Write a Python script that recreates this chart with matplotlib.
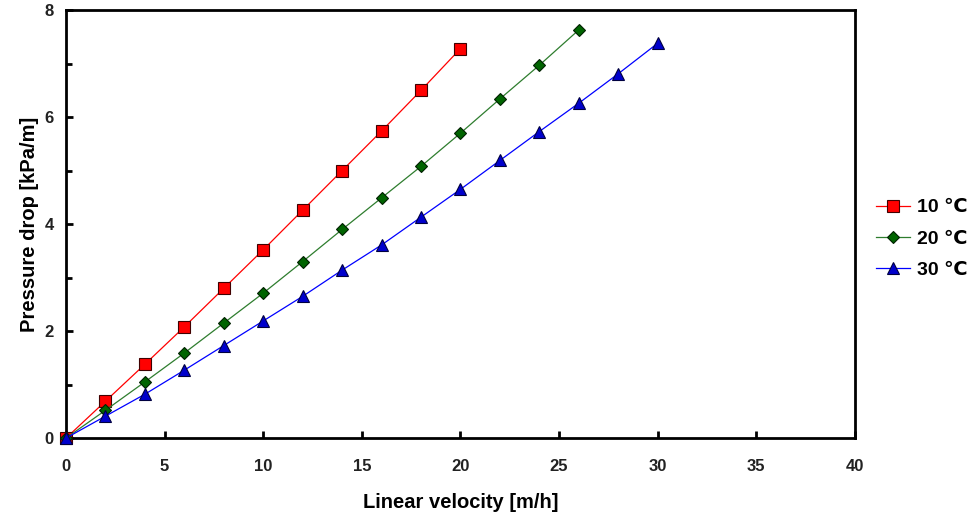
import numpy as np
import matplotlib
matplotlib.use("Agg")
import matplotlib.pyplot as plt
from matplotlib.ticker import MultipleLocator

plt.rcParams['font.family'] = ['Liberation Sans', 'DejaVu Sans']

# data
v_10 = [0, 2, 4, 6, 8, 10, 12, 14, 16, 18, 20]
dp_10 = [0, 0.69, 1.38, 2.08, 2.80, 3.52, 4.26, 5.00, 5.74, 6.50, 7.28]

v_20 = [0, 2, 4, 6, 8, 10, 12, 14, 16, 18, 20, 22, 24, 26]
dp_20 = [0, 0.52, 1.05, 1.59, 2.15, 2.71, 3.30, 3.90, 4.49, 5.08, 5.70, 6.34, 6.97, 7.63]

v_30 = [0, 2, 4, 6, 8, 10, 12, 14, 16, 18, 20, 22, 24, 26, 28, 30]
dp_30 = [0, 0.41, 0.82, 1.27, 1.73, 2.19, 2.65, 3.14, 3.61, 4.13, 4.65, 5.19, 5.73, 6.26, 6.81, 7.38]

labels = ['10 \u2103', '20 \u2103', '30 \u2103']

fig = plt.figure(figsize=(9.71, 5.16), dpi=100)
ax = fig.add_axes([0.068, 0.151, 0.8125, 0.8295])

ax.plot(v_10, dp_10, color='#ff0000', lw=0.9, marker='s', ms=8,
        mfc='#ff0000', mec='#400000', mew=0.8, label=labels[0], clip_on=False, zorder=3)
ax.plot(v_20, dp_20, color='#2e7d2e', lw=0.9, marker='D', ms=6.5,
        mfc='#006400', mec='#002000', mew=0.8, label=labels[1], clip_on=False, zorder=3)
ax.plot(v_30, dp_30, color='#0000ff', lw=0.9, marker='^', ms=8.5,
        mfc='#0000cc', mec='#000040', mew=0.8, label=labels[2], clip_on=False, zorder=3)

ax.set_xlim(0, 40)
ax.set_ylim(0, 8)
ax.xaxis.set_major_locator(MultipleLocator(5))
ax.yaxis.set_major_locator(MultipleLocator(2))
ax.yaxis.set_minor_locator(MultipleLocator(1))

for s in ax.spines.values():
    s.set_linewidth(2)
ax.tick_params(axis='both', which='both', direction='in', top=False, right=False,
               width=2, labelsize=12)
ax.tick_params(axis='x', which='major', length=5, pad=15)
ax.tick_params(axis='y', which='major', length=5, pad=9)
ax.tick_params(axis='y', which='minor', length=4)
for lab in ax.get_xticklabels() + ax.get_yticklabels():
    lab.set_fontweight('bold')
    lab.set_color('#222222')

ax.set_xlabel('Linear velocity [m/h]', fontsize=14.5, fontweight='bold', labelpad=14)
ax.set_ylabel('Pressure drop [kPa/m]', fontsize=14.5, fontweight='bold', labelpad=4)

leg = fig.legend(loc='center left', bbox_to_anchor=(876 / 971, 0.537), frameon=False,
                 prop={'size': 14, 'weight': 'bold'}, handlelength=1.75,
                 handletextpad=0.35, labelspacing=0.7, borderpad=0, borderaxespad=0)

fig.savefig('out.png', dpi=100)
